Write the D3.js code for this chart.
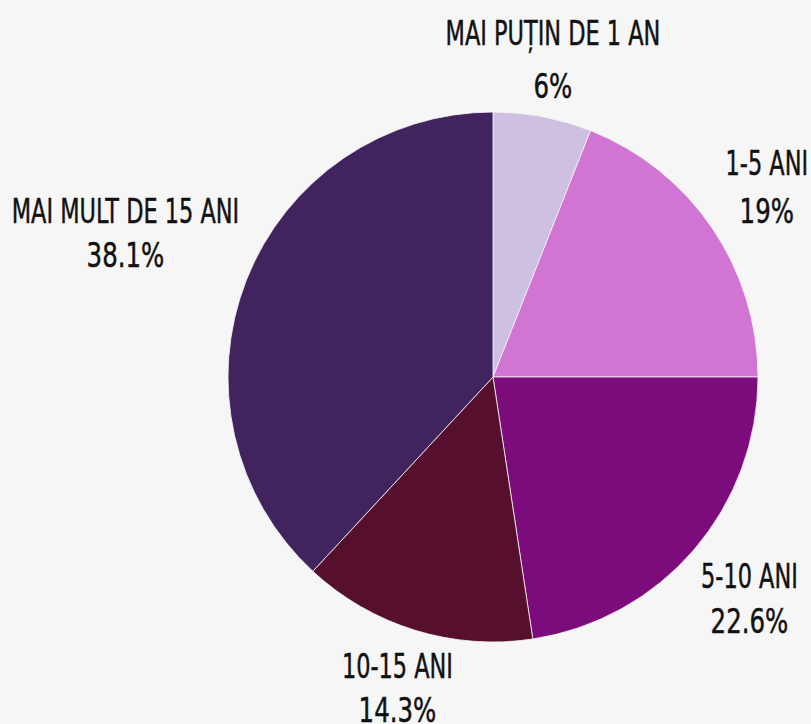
<!DOCTYPE html>
<html>
<head>
<meta charset="utf-8">
<script src="https://cdn.jsdelivr.net/npm/d3@7"></script>
<style>
  body { margin: 0; background: #f6f6f6; }
  text { font-family: "DejaVu Sans", sans-serif; fill: #111; stroke: #111; stroke-width: 0.5; }
</style>
</head>
<body>
<div id="chart"></div>
<script>
// Chart data
const categories = ["MAI PUȚIN DE 1 AN", "1-5 ANI", "5-10 ANI", "10-15 ANI", "MAI MULT DE 15 ANI"];
const values = [6, 19, 22.6, 14.3, 38.1];
const labels = ["6%", "19%", "22.6%", "14.3%", "38.1%"];
const colors = ["#cdc0e0", "#d274d4", "#7c0b7b", "#560f2d", "#41245e"];

const width = 811, height = 724;
const cx = 493, cy = 377, radius = 265;

const svg = d3.select("#chart")
    .append("svg")
    .attr("width", width)
    .attr("height", height);

const pie = d3.pie().sort(null).value(d => d);
const arcs = pie(values);

const arc = d3.arc().innerRadius(0).outerRadius(radius);
const labelArc = d3.arc().innerRadius(325).outerRadius(325);

const g = svg.append("g").attr("transform", `translate(${cx},${cy})`);

g.selectAll("path")
    .data(arcs)
    .join("path")
    .attr("d", arc)
    .attr("fill", (d, i) => colors[i])
    .attr("stroke", "#f6f6f6")
    .attr("stroke-width", 0.8);

// small nudges so labels sit like the original
const nudge = [[-1, -13], [5, -19], [10, -1], [0, -10], [-65, -35]];
const gap = [53, 48, 45, 44, 44];

const lab = g.selectAll("g.lab")
    .data(arcs)
    .join("g")
    .attr("class", "lab")
    .attr("transform", (d, i) => {
        const [x, y] = labelArc.centroid(d);
        return `translate(${x + nudge[i][0]},${y + nudge[i][1]})`;
    });

// condensed look: squeeze the text horizontally
lab.append("text")
    .attr("text-anchor", "middle")
    .attr("transform", "scale(0.66,1)")
    .attr("font-size", 34)
    .text((d, i) => categories[i]);

lab.append("text")
    .attr("text-anchor", "middle")
    .attr("transform", (d, i) => `translate(0,${gap[i]}) scale(0.72,1)`)
    .attr("font-size", 34)
    .text((d, i) => labels[i]);
</script>
</body>
</html>
